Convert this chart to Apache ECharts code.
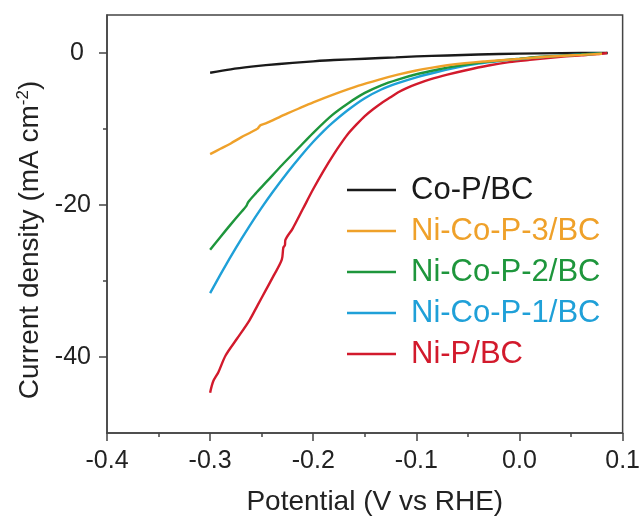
<!DOCTYPE html>
<html>
<head>
<meta charset="utf-8">
<script src="https://cdn.jsdelivr.net/npm/echarts@6/dist/echarts.min.js"></script>
<style>
  html, body { margin: 0; padding: 0; background: #fff; }
  #chart { width: 643px; height: 522px; }
</style>
</head>
<body>
<div id="chart"></div>
<script>
// LSV curves, [potential V vs RHE, current density mA cm-2]
const coP = [[-0.3,-2.6],[-0.28,-2.15],[-0.26,-1.8],[-0.246,-1.6],[-0.22,-1.3],[-0.2,-1.1],[-0.18,-0.93],[-0.15,-0.75],[-0.12,-0.57],[-0.1,-0.45],[-0.07,-0.32],[-0.04,-0.2],[0,-0.08],[0.04,-0.02],[0.0856,0]]
const niCoP3 = [[-0.3,-13.3],[-0.29,-12.6],[-0.28,-11.9],[-0.27,-11.1],[-0.26,-10.4],[-0.254,-9.95],[-0.2525,-9.7],[-0.251,-9.5],[-0.245,-9.2],[-0.237,-8.7],[-0.225,-7.95],[-0.214,-7.3],[-0.2,-6.5],[-0.18,-5.45],[-0.156,-4.3],[-0.136,-3.5],[-0.118,-2.85],[-0.1,-2.3],[-0.086,-1.95],[-0.07,-1.62],[-0.053,-1.35],[-0.035,-1.12],[-0.021,-0.98],[0,-0.78],[0.01,-0.66],[0.025,-0.5],[0.043,-0.36],[0.06,-0.25],[0.08,-0.1]]
const niCoP2 = [[-0.3,-25.9],[-0.29,-24.2],[-0.28,-22.55],[-0.27,-20.95],[-0.265,-20.15],[-0.263,-19.6],[-0.256,-18.5],[-0.245,-16.9],[-0.23,-14.7],[-0.215,-12.6],[-0.2,-10.5],[-0.182,-8.2],[-0.166,-6.6],[-0.15,-5.25],[-0.134,-4.25],[-0.118,-3.5],[-0.1,-2.8],[-0.08,-2.2],[-0.06,-1.7],[-0.04,-1.3],[-0.02,-1.0],[0,-0.75],[0.02,-0.5],[0.04,-0.35],[0.06,-0.2],[0.08,-0.05]]
const niCoP1 = [[-0.3,-31.6],[-0.288,-28.66],[-0.275,-25.64],[-0.262,-22.81],[-0.25,-20.35],[-0.24,-18.42],[-0.225,-15.72],[-0.212,-13.54],[-0.2,-11.68],[-0.19,-10.28],[-0.182,-9.26],[-0.166,-7.47],[-0.15,-5.95],[-0.134,-4.8],[-0.118,-3.97],[-0.1,-3.2],[-0.08,-2.5],[-0.06,-1.9],[-0.04,-1.4],[-0.02,-1.05],[0,-0.8],[0.02,-0.55],[0.04,-0.35],[0.06,-0.2],[0.08,-0.05]]
const niP = [[-0.3,-44.7],[-0.297,-43.2],[-0.292,-42.0],[-0.285,-39.8],[-0.274,-37.6],[-0.262,-35.2],[-0.254,-33.2],[-0.246,-31.2],[-0.238,-29.2],[-0.2305,-27.2],[-0.229,-25.6],[-0.2275,-25.3],[-0.227,-24.6],[-0.22,-23.1],[-0.21,-20.5],[-0.2,-17.9],[-0.19,-15.5],[-0.18,-13.3],[-0.172,-11.7],[-0.166,-10.6],[-0.158,-9.4],[-0.15,-8.3],[-0.142,-7.4],[-0.134,-6.6],[-0.126,-5.9],[-0.118,-5.2],[-0.11,-4.65],[-0.1,-4.1],[-0.086,-3.45],[-0.07,-2.85],[-0.053,-2.3],[-0.03,-1.65],[-0.01,-1.2],[0.01,-0.9],[0.04,-0.5],[0.06,-0.3],[0.075,-0.15],[0.085,0]]

const names = ['Co-P/BC', 'Ni-Co-P-3/BC', 'Ni-Co-P-2/BC', 'Ni-Co-P-1/BC', 'Ni-P/BC']
const colors = ['#1a1a1a', '#EFA12A', '#1E963C', '#1FA0D8', '#D21A2C']
const curves = [coP, niCoP3, niCoP2, niCoP1, niP]
const yMajorTicks = [0, -20, -40]
const yMinorTicks = [-10, -30]

const font = "'Liberation Sans', Arial, sans-serif"
const axisColor = '#444'

const myChart = echarts.init(document.getElementById('chart'))

// draw order: black first, then red, blue, green, orange on top
const drawOrder = [0, 4, 3, 2, 1]

const option = {
  backgroundColor: '#ffffff',
  animation: false,
  grid: {
    left: 107,
    top: 15,
    right: 17,
    bottom: 89,
    show: true,
    borderColor: axisColor,
    borderWidth: 1.5,
  },
  legend: {
    orient: 'vertical',
    left: 347,
    top: 174,
    padding: 0,
    icon: 'rect',
    itemWidth: 49,
    itemHeight: 2.5,
    itemGap: 9,
    selectedMode: false,
    textStyle: {
      fontSize: 31,
      fontFamily: font,
      lineHeight: 32,
      padding: [0, 0, 0, 10],
    },
    data: names.map((n, i) => ({ name: n, textStyle: { color: colors[i] } })),
  },
  xAxis: {
    type: 'value',
    min: -0.4,
    max: 0.1,
    interval: 0.1,
    name: 'Potential (V vs RHE)',
    nameLocation: 'middle',
    nameGap: 55,
    nameTextStyle: {
      fontSize: 28,
      fontFamily: font,
      color: '#222',
      padding: [0, 0, 0, 20],
    },
    axisLine: { show: true, onZero: false, lineStyle: { color: axisColor, width: 1.5 } },
    axisTick: { show: true, length: 8, lineStyle: { color: axisColor, width: 1.5 } },
    minorTick: { show: true, splitNumber: 2, length: 4, lineStyle: { color: axisColor, width: 1.5 } },
    splitLine: { show: false },
    axisLabel: {
      fontSize: 25,
      fontFamily: font,
      color: '#222',
      margin: 16,
      formatter: (v) => (Math.abs(v) < 1e-9 ? 0 : v).toFixed(1),
    },
  },
  yAxis: [
    {
      type: 'value',
      min: -50,
      max: 5,
      interval: 10,
      name: '{t|Current density (mA cm}{s|-2}{t|)}',
      nameLocation: 'middle',
      nameGap: 62,
      nameRotate: 90,
      nameTextStyle: {
        padding: [0, 32, 0, 0],
        rich: {
          t: { fontSize: 28, fontFamily: font, color: '#222', lineHeight: 30 },
          s: { fontSize: 17, fontFamily: font, color: '#222', verticalAlign: 'top', lineHeight: 17 },
        },
      },
      axisLine: { show: true, onZero: false, lineStyle: { color: axisColor, width: 1.5 } },
      axisTick: { show: true, length: 8, customValues: yMajorTicks, lineStyle: { color: axisColor, width: 1.5 } },
      splitLine: { show: false },
      axisLabel: {
        customValues: yMajorTicks,
        fontSize: 25,
        fontFamily: font,
        color: '#222',
        margin: 16,
        formatter: (v) => (v === 0 ? '{z|0}' : String(v)),
        rich: { z: { fontSize: 25, fontFamily: font, color: '#222', padding: [0, 7, 0, 0] } },
      },
    },
    {
      type: 'value',
      min: -50,
      max: 5,
      interval: 10,
      position: 'left',
      axisLine: { show: false, onZero: false },
      axisTick: { show: true, length: 4, customValues: yMinorTicks, lineStyle: { color: axisColor, width: 1.5 } },
      axisLabel: { show: false },
      splitLine: { show: false },
    },
  ],
  series: drawOrder.map((i) => ({
    name: names[i],
    type: 'line',
    data: curves[i],
    showSymbol: false,
    symbol: 'none',
    smooth: 0.3,
    color: colors[i],
    lineStyle: { color: colors[i], width: 2.4 },
    z: 2,
  })),
}

myChart.setOption(option)
</script>
</body>
</html>
